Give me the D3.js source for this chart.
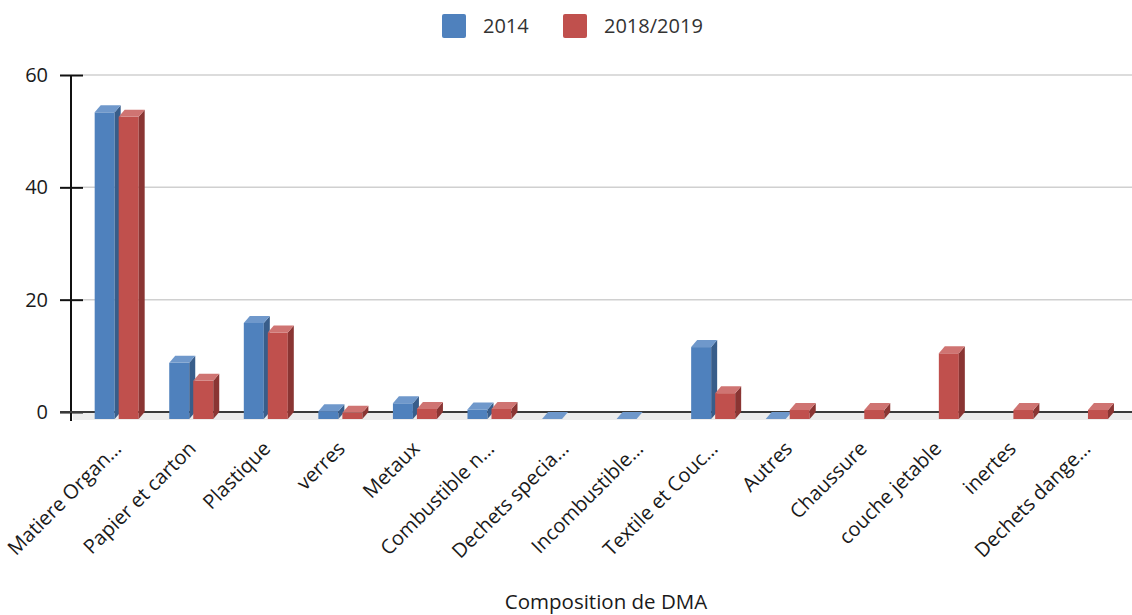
<!DOCTYPE html>
<html>
<head>
<meta charset="utf-8">
<script src="https://cdn.jsdelivr.net/npm/d3@7"></script>
<style>
  html, body { margin: 0; padding: 0; background: #fff; }
  svg { display: block; font-family: "Open Sans", sans-serif; }
</style>
</head>
<body>
<svg id="chart" width="1132" height="615"></svg>
<script>
// Composition of household waste (DMA), % by category
const categories = [
  "Matiere Organ…", "Papier et carton", "Plastique", "verres", "Metaux",
  "Combustible n…", "Dechets specia…", "Incombustible…", "Textile et Couc…",
  "Autres", "Chaussure", "couche jetable", "inertes", "Dechets dange…"
];
const seriesNames = ["2014", "2018/2019"];
const values2014 = [54.6, 10.0, 17.1, 1.4, 2.8, 1.7, 0, 0, 12.8, 0, null, null, null, null];
const values2018 = [53.8, 6.8, 15.4, 1.1, 1.8, 1.8, null, null, 4.6, 1.6, 1.6, 11.7, 1.6, 1.6];
const yTicks = [0, 20, 40, 60];
const axisTitle = "Composition de DMA";

const colors = [
  { front: "#4F81BD", side: "#385D8A", top: "#6F98CB" },
  { front: "#C0504D", side: "#8A3533", top: "#CF7472" }
];

const W = 1132, H = 615;
const svg = d3.select("#chart");
const labelFont = "'Open Sans', sans-serif";

const plotLeft = 71, plotRight = 1132;
const depthX = 6, depthY = 7;

const y = d3.scaleLinear().domain([0, 60]).range([412, 75]);
const x = d3.scaleBand().domain(categories).range([81.4, 81.4 + 14 * 74.56]).paddingInner(0).paddingOuter(0);
const barW = 20, barGap = 4;

// floor strip beneath the zero line
svg.append("rect")
  .attr("x", plotLeft + 2).attr("y", y(0))
  .attr("width", plotRight - plotLeft).attr("height", depthY + 1)
  .attr("fill", "#ececec");

// gridlines
svg.append("g").selectAll("line").data(yTicks.filter(d => d !== 0)).join("line")
  .attr("x1", 83).attr("x2", plotRight)
  .attr("y1", d => y(d)).attr("y2", d => y(d))
  .attr("stroke", "#d0d0d0").attr("stroke-width", 1.5);

// y axis with ticks crossing the spine
const yAxis = d3.axisLeft(y).tickValues(yTicks).tickSize(0).tickPadding(23);
const gy = svg.append("g").attr("transform", `translate(${plotLeft},0)`).call(yAxis);
gy.select(".domain").remove();
gy.selectAll(".tick text")
  .attr("font-size", 20).attr("fill", "#1a1a1a").attr("font-family", labelFont);
gy.selectAll(".tick").append("line")
  .attr("x1", -11).attr("x2", 12).attr("stroke", "#111").attr("stroke-width", 2);
svg.append("line")
  .attr("x1", plotLeft).attr("x2", plotLeft)
  .attr("y1", y(60)).attr("y2", y(0) + depthY + 2)
  .attr("stroke", "#111").attr("stroke-width", 2);

// zero line
svg.append("line")
  .attr("x1", plotLeft - 11).attr("x2", plotRight)
  .attr("y1", y(0)).attr("y2", y(0))
  .attr("stroke", "#3a3a3a").attr("stroke-width", 2);

// 3D bars
const seriesData = [values2014, values2018];
const bars = svg.append("g");
categories.forEach((cat, i) => {
  const center = x(cat) + x.bandwidth() / 2;
  seriesData.forEach((vals, s) => {
    const v = vals[i];
    if (v === null || v === undefined) return;
    const x0 = center - barW - barGap / 2 + s * (barW + barGap) - 2;
    const x1 = x0 + barW;
    const yb = y(0) + depthY;
    const yt = y(v) + depthY;
    const c = colors[s];
    const g = bars.append("g");
    if (v > 0) {
      g.append("rect").attr("x", x0).attr("y", yt).attr("width", barW).attr("height", yb - yt)
        .attr("fill", c.front);
      g.append("path")
        .attr("d", `M${x1},${yt}L${x1 + depthX},${yt - depthY}L${x1 + depthX},${yb - depthY}L${x1},${yb}Z`)
        .attr("fill", c.side);
    }
    g.append("path")
      .attr("d", `M${x0},${yt}L${x0 + depthX},${yt - depthY}L${x1 + depthX},${yt - depthY}L${x1},${yt}Z`)
      .attr("fill", c.top);
  });
});

// rotated category labels
svg.append("g").selectAll("text").data(categories).join("text")
  .attr("transform", d => `translate(${x(d) + x.bandwidth() / 2 - 6},${440}) rotate(-45)`)
  .attr("text-anchor", "end")
  .attr("dy", "0.7em")
  .attr("font-size", 20)
  .attr("font-family", labelFont)
  .attr("fill", "#1a1a1a")
  .text(d => d);

// axis title
svg.append("text")
  .attr("x", 606).attr("y", 609)
  .attr("text-anchor", "middle")
  .attr("font-size", 20.5)
  .attr("font-family", labelFont)
  .attr("fill", "#1a1a1a")
  .text(axisTitle);

// legend
const legendX = [442, 563];
const legend = svg.append("g");
seriesNames.forEach((name, s) => {
  legend.append("rect")
    .attr("x", legendX[s]).attr("y", 14).attr("width", 24).attr("height", 24)
    .attr("rx", 2).attr("fill", colors[s].front);
  legend.append("text")
    .attr("x", legendX[s] + 41).attr("y", 33)
    .attr("font-size", 20).attr("font-family", labelFont).attr("fill", "#333")
    .text(name);
});
</script>
</body>
</html>
